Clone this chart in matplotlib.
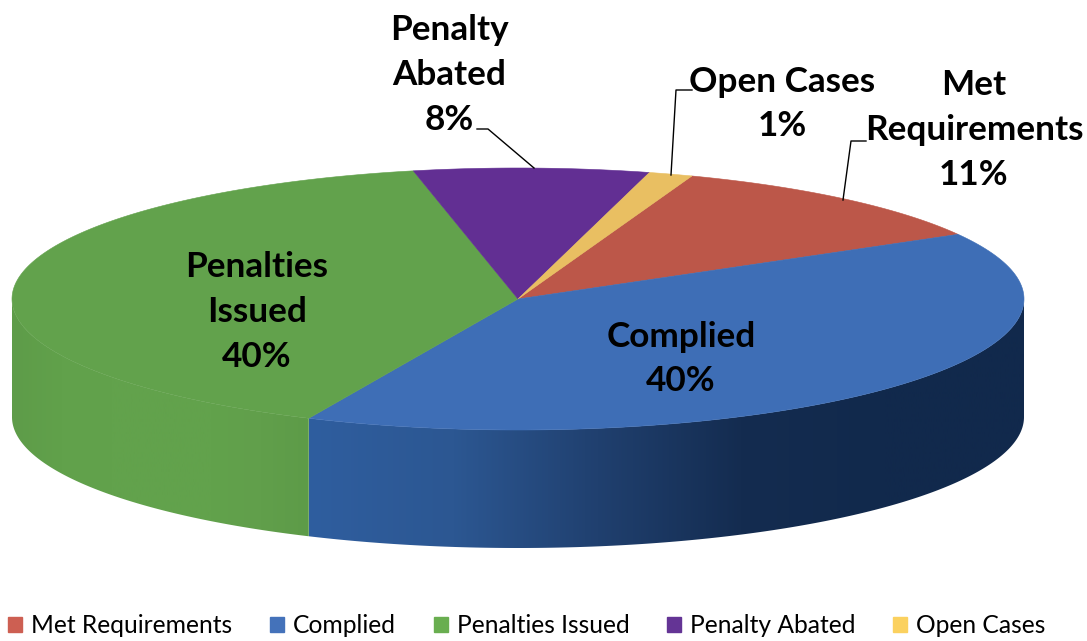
import numpy as np
import matplotlib
matplotlib.use("Agg")
import matplotlib.pyplot as plt
from matplotlib.colors import LinearSegmentedColormap
from matplotlib.patches import Patch, Polygon

names = ["Met Requirements", "Complied", "Penalties Issued", "Penalty Abated", "Open Cases"]
shares = [11.2, 40.0, 39.9, 7.5, 1.4]
top_colors = ["#BC5749", "#3E6EB6", "#62A24C", "#622F93", "#E9BF62"]
legend_colors = ["#CD5F52", "#4472BA", "#69AE50", "#643495", "#FBD15F"]
shown = ["Met\nRequirements", "Complied", "Penalties\nIssued", "Penalty\nAbated", "Open Cases"]

cx, cy, rx, ry = 518, 299, 506, 131
depth = 118
start = 69.9

plt.rcParams["font.family"] = ["Lato", "DejaVu Sans"]
fig = plt.figure(figsize=(10.87, 6.41), dpi=100)
ax = fig.add_axes([0, 0, 1, 1])
ax.axis("off")


def rim(a, b, dy=0):
    t = np.radians(np.linspace(a, b, 200))
    return np.column_stack([cx + rx * np.cos(t), cy - ry * np.sin(t) + dy])


def wall(a1, a2, colors, x0, x1):
    outline = np.vstack([rim(a1, a2), rim(a2, a1, depth)])
    clip = Polygon(outline, closed=True, transform=ax.transData, fc="none", ec="none")
    ax.add_patch(clip)
    cmap = LinearSegmentedColormap.from_list("side", colors)
    img = ax.imshow(np.linspace(0, 1, 256)[None, :], cmap=cmap, aspect="auto",
                    extent=[x0, x1, 641, 0], zorder=1)
    img.set_clip_path(clip)


# angles of the slices, going clockwise
stops = start - np.cumsum([0] + shares) * 3.6

# side wall, only the front half can be seen
wall(-180, stops[2], ["#5E9C49", "#61A14B", "#62A24C", "#62A24C", "#62A24C", "#619F4B", "#5D9B48"], 12, 311)
wall(stops[2], 0, ["#2F5E9F", "#2C5792", "#20406F", "#142C50", "#11294C", "#11294C"], 309, 1030)

ax.set_xlim(0, 1087)
ax.set_ylim(641, 0)

# top face
for i in range(len(shares)):
    pts = np.vstack([[cx, cy], rim(stops[i], stops[i + 1])])
    ax.fill(pts[:, 0], pts[:, 1], color=top_colors[i], lw=0.4, zorder=2)

# leader lines
ax.plot([477, 488, 534], [129, 129, 168], color="black", lw=1, zorder=3)
ax.plot([692, 676, 671], [90, 90, 175], color="black", lw=1, zorder=3)
ax.plot([866, 851, 843], [141, 141, 200], color="black", lw=1, zorder=3)

# data labels
label_pos = [(974, 130), (681, 359), (257, 312), (449, 75), (782, 104)]
for i in range(len(shares)):
    ax.text(label_pos[i][0], label_pos[i][1], "%s\n%d%%" % (shown[i], round(shares[i])),
            ha="center", va="center", fontsize=25.3, fontweight="bold", color="black",
            linespacing=1.49, zorder=4)

handles = [Patch(color=c) for c in legend_colors]
leg = ax.legend(handles, names, ncol=5, loc="lower left", bbox_to_anchor=(8 / 1087, 4 / 641),
                bbox_transform=fig.transFigure, frameon=False, fontsize=17.7,
                handlelength=0.57, handleheight=0.57, handletextpad=0.37, columnspacing=1.53,
                borderpad=0.0, borderaxespad=0.0)

fig.savefig("out.png", dpi=100, facecolor="white")
